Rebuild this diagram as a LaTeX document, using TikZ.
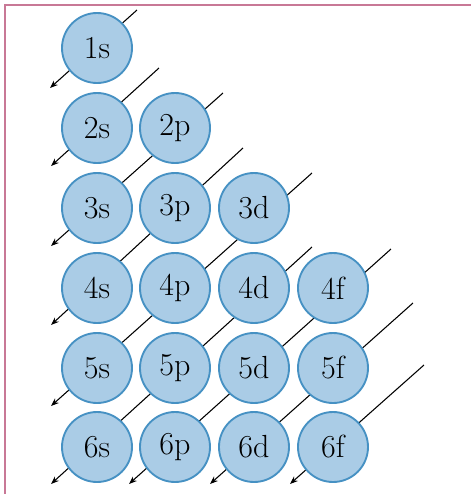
\documentclass[tikz,border=0pt]{standalone}
\usetikzlibrary{arrows.meta,calc}
\definecolor{orbfill}{RGB}{170,204,230}
\definecolor{orbdraw}{RGB}{70,145,195}
\definecolor{framec}{RGB}{200,120,150}
\pgfdeclarelayer{background}
\pgfsetlayers{background,main}
\begin{document}
\begin{tikzpicture}[x=0.75pt,y=-0.75pt,
  orb/.style={circle, draw=orbdraw, fill=orbfill, line width=1.4pt,
    minimum size=52.5pt, inner sep=0pt, font=\fontsize{24}{28}\selectfont},
  diag/.style={line width=0.8pt, black, -{Stealth[length=6pt,width=4.5pt]}},
  frameline/.style={framec, line width=2.2pt}]
\useasboundingbox (0,0) rectangle (471,494);
\draw[frameline] (5,494) -- (5,5) -- (471,5);
% nodes
\node[orb] (n1s) at (97,48) {1s};
\node[orb] (n2s) at (97,128) {2s};
\node[orb] (n2p) at (175,128) {2p};
\node[orb] (n3s) at (97,208) {3s};
\node[orb] (n3p) at (175,208) {3p};
\node[orb] (n3d) at (254,208) {3d};
\node[orb] (n4s) at (97,288) {4s};
\node[orb] (n4p) at (175,288) {4p};
\node[orb] (n4d) at (254,288) {4d};
\node[orb] (n4f) at (333,288) {4f};
\node[orb] (n5s) at (97,368) {5s};
\node[orb] (n5p) at (175,368) {5p};
\node[orb] (n5d) at (254,368) {5d};
\node[orb] (n5f) at (333,368) {5f};
\node[orb] (n6s) at (97,447) {6s};
\node[orb] (n6p) at (175,447) {6p};
\node[orb] (n6d) at (254,447) {6d};
\node[orb] (n6f) at (333,447) {6f};
% diagonal end points
\coordinate (a1) at ($(n1s)+(40,-38)$);  \coordinate (b1) at ($(n1s)+(-47,40)$);
\coordinate (a2) at ($(n2s)+(62,-60)$);  \coordinate (b2) at ($(n2s)+(-46,38)$);
\coordinate (a3) at ($(n2p)+(48,-35)$);  \coordinate (b3) at ($(n3s)+(-46,38)$);
\coordinate (a4) at ($(n3p)+(68,-60)$);  \coordinate (b4) at ($(n4s)+(-46,37)$);
\coordinate (a5) at ($(n3d)+(58,-35)$);  \coordinate (b5) at ($(n5s)+(-46,38)$);
\coordinate (a6) at ($(n4d)+(58,-41)$);  \coordinate (b6) at ($(n6s)+(-46,37)$);
\coordinate (a7) at ($(n4f)+(58,-39)$);  \coordinate (b7) at ($(n6p)+(-46,37)$);
\coordinate (a8) at ($(n5f)+(80,-65)$);  \coordinate (b8) at ($(n6d)+(-44,37)$);
\coordinate (a9) at ($(n6f)+(91,-82)$);  \coordinate (b9) at ($(n6f)+(-43,37)$);
\begin{pgfonlayer}{background}
\foreach \i in {1,...,9} \draw[diag] (a\i) -- (b\i);
\end{pgfonlayer}
\end{tikzpicture}
\end{document}
